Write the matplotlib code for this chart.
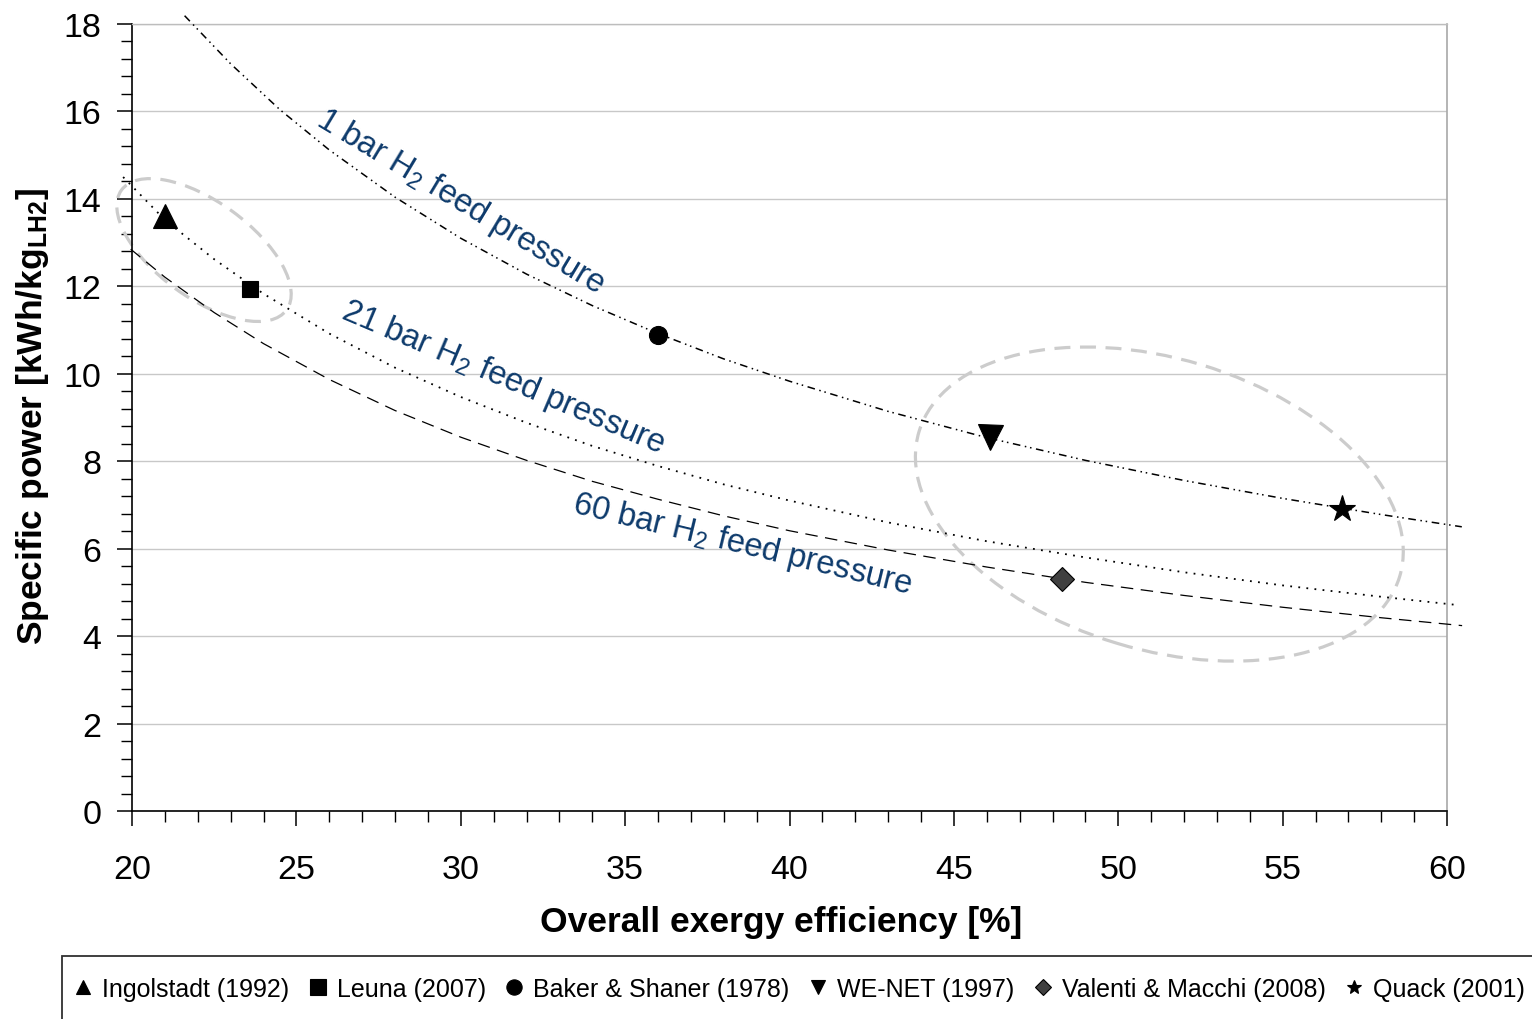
import matplotlib
matplotlib.use('Agg')
import matplotlib.pyplot as plt
from matplotlib.patches import Ellipse, Rectangle
from matplotlib.ticker import MultipleLocator
import matplotlib.transforms as mtransforms

plt.rcParams['font.family'] = ['Liberation Sans', 'DejaVu Sans']
plt.rcParams['mathtext.fontset'] = 'custom'
plt.rcParams['mathtext.rm'] = 'Liberation Sans'
plt.rcParams['mathtext.it'] = 'Liberation Sans:italic'
plt.rcParams['mathtext.bf'] = 'Liberation Sans:bold'

# ---------------- data ----------------
plant_names = ['Ingolstadt (1992)', 'Leuna (2007)', 'Baker & Shaner (1978)',
               'WE-NET (1997)', 'Valenti & Macchi (2008)', 'Quack (2001)']
plant_eff = [21.0, 23.6, 36.0, 46.1, 48.3, 56.8]
plant_power = [13.61, 11.94, 10.89, 8.55, 5.31, 6.91]

bar1_eff = [21.6, 23, 24.5, 26, 28, 30, 32, 34, 36, 38, 40, 43, 46, 49, 52, 55, 58, 60.45]
bar1_power = [18.19, 17.09, 16.04, 15.12, 14.04, 13.10, 12.28, 11.56, 10.92, 10.34,
              9.83, 9.14, 8.54, 8.02, 7.56, 7.15, 6.78, 6.50]

bar21_eff = [19.73, 21, 22.5, 24, 26, 28, 30, 32, 34, 36, 38, 40, 43, 46, 49, 52, 55, 58, 60.33]
bar21_power = [14.50, 13.52, 12.62, 11.83, 10.92, 10.14, 9.47, 8.88, 8.35, 7.89, 7.47,
               7.10, 6.60, 6.17, 5.80, 5.46, 5.16, 4.90, 4.71]

bar60_eff = [19.96, 21, 22.5, 24, 26, 28, 30, 32, 34, 36, 38, 40, 43, 46, 49, 52, 55, 58, 60.46]
bar60_power = [12.85, 12.21, 11.40, 10.69, 9.87, 9.16, 8.55, 8.02, 7.54, 7.13, 6.75,
               6.41, 5.97, 5.58, 5.23, 4.93, 4.66, 4.42, 4.24]

curve_labels = ['1 bar H$\\mathregular{_2}$ feed pressure',
                '21 bar H$\\mathregular{_2}$ feed pressure',
                '60 bar H$\\mathregular{_2}$ feed pressure']

x_ticks = [20, 25, 30, 35, 40, 45, 50, 55, 60]
y_ticks = [0, 2, 4, 6, 8, 10, 12, 14, 16, 18]

# ---------------- styling ----------------
plant_markers = ['^', 's', 'o', 'v', 'D', '*']
plant_sizes = [17, 12, 13, 18, 12.5, 20]
plant_faces = ['black', 'black', 'black', 'black', '#404040', 'black']
legend_sizes = [10.5, 12, 11, 10.5, 8, 10]
label_color = '#0d3a6b'

fig = plt.figure(figsize=(15.32, 10.20), dpi=100)
ax = fig.add_axes([132/1532, 1-812/1020, (1447-132)/1532, (812-25)/1020])

ax.set_xlim(20, 60)
ax.set_ylim(0, 18)
ax.set_xticks(x_ticks)
ax.set_yticks(y_ticks)
ax.xaxis.set_minor_locator(MultipleLocator(1))
ax.yaxis.set_minor_locator(MultipleLocator(0.4))
ax.tick_params(axis='both', which='major', length=11, width=1.1, direction='out',
               labelsize=24.5, colors='black')
ax.tick_params(axis='both', which='minor', length=8, width=1.0, direction='out')
ax.tick_params(axis='x', which='major', pad=20)
ax.tick_params(axis='y', which='major', pad=11)

ax.grid(axis='y', which='major', color='#c8c8c8', linewidth=1.0)
ax.set_axisbelow(True)
for s in ['left', 'bottom']:
    ax.spines[s].set_color('black')
    ax.spines[s].set_linewidth(1.2)
ax.spines['top'].set_color('#bdbdbd')
ax.spines['right'].set_color('#a8a8a8')
ax.spines['top'].set_linewidth(1.0)
ax.spines['right'].set_linewidth(1.2)

# ellipses (pixel-sized, centred on data positions)
ell_specs = [((22.19, 12.83), 2.04, 0.96, -36.0),
             ((51.25, 7.02), 5.02, 2.91, -16.8)]
for (cx, cy), w, h, ang in ell_specs:
    tr = fig.dpi_scale_trans + mtransforms.ScaledTranslation(cx, cy, ax.transData)
    e = Ellipse((0, 0), w, h, angle=ang, transform=tr, fill=False,
                edgecolor='#cccccc', linewidth=2.3, linestyle=(0, (5, 3)),
                clip_on=False, zorder=2)
    ax.add_patch(e)

# curves
ax.plot(bar1_eff, bar1_power, color='black', linewidth=1.1,
        linestyle=(0, (5, 3, 1, 2.5, 1, 3)), clip_on=False, zorder=3)
ax.plot(bar21_eff, bar21_power, color='black', linewidth=1.3,
        linestyle=(0, (1, 3.5)), clip_on=False, zorder=3)
ax.plot(bar60_eff, bar60_power, color='black', linewidth=0.9,
        linestyle=(0, (10, 6)), clip_on=False, zorder=3)

# plant points
for name, x, y, m, ms, fc in zip(plant_names, plant_eff, plant_power,
                                 plant_markers, plant_sizes, plant_faces):
    ax.plot([x], [y], linestyle='none', marker=m, markersize=ms,
            markerfacecolor=fc, markeredgecolor='black', markeredgewidth=0.8,
            label=name, zorder=5, clip_on=False)

# curve labels
label_pos = [(29.98, 13.95, -31.0), (31.29, 9.93, -23.0), (38.56, 6.11, -13.6)]
for txt, (lx, ly, rot) in zip(curve_labels, label_pos):
    ax.text(lx, ly, txt, fontsize=23.5, color=label_color, rotation=rot,
            rotation_mode='anchor', ha='center', va='center', zorder=4)

ax.set_xlabel('Overall exergy efficiency [%]', fontsize=25.5, fontweight='bold')
ax.xaxis.set_label_coords((781-132)/1315, (812-923)/787)
ax.xaxis.label.set_va('center')
ax.set_ylabel('Specific power [kWh/kg$\\mathbf{_{LH2}}$]', fontsize=25.5,
              fontweight='bold')
ax.yaxis.set_label_coords((33-132)/1315, (812-416.5)/787)
ax.yaxis.label.set_va('center')
ax.yaxis.label.set_ha('center')

# legend frame (extends beyond the figure edge as in the original)
fig.patches.append(Rectangle((62/1532, -0.1), 1.0, 0.1 + 1-957/1020,
                             transform=fig.transFigure, fill=False,
                             edgecolor='#303030', linewidth=1.3))

leg = ax.legend(loc='center left', bbox_to_anchor=(73/1532, 1-990/1020),
                bbox_transform=fig.transFigure, borderaxespad=0, borderpad=0,
                ncol=6, fontsize=18, handlelength=0.8, handletextpad=0.36,
                columnspacing=0.74, frameon=False)
for h, s in zip(leg.legend_handles, legend_sizes):
    h.set_markersize(s)

fig.savefig('out.png', dpi=100)
